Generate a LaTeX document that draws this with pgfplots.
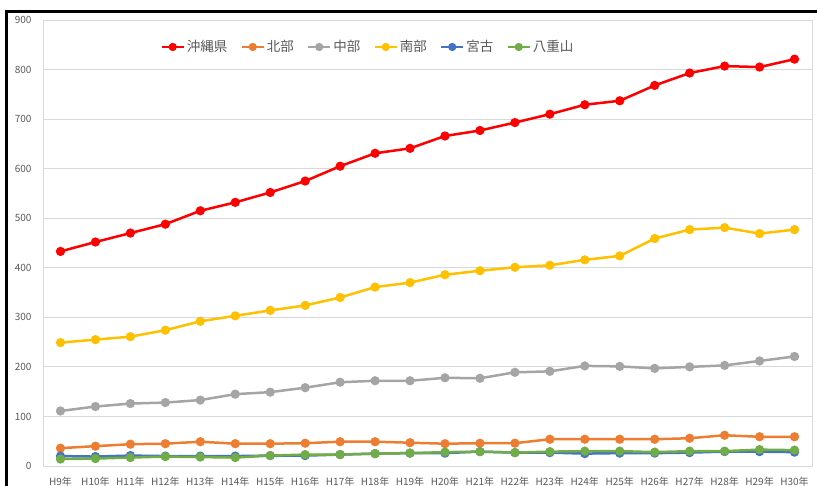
\documentclass[border=0pt]{standalone}
\usepackage{pgfplots}
\pgfplotsset{compat=1.18}
\usepackage{fontspec}
\setmainfont{Noto Sans CJK JP}
\definecolor{cRed}{HTML}{FF0000}
\definecolor{cOrange}{HTML}{ED7D31}
\definecolor{cGray}{HTML}{A5A5A5}
\definecolor{cYellow}{HTML}{FFC000}
\definecolor{cBlue}{HTML}{4472C4}
\definecolor{cGreen}{HTML}{70AD47}
\definecolor{txt}{HTML}{595959}
\definecolor{gridc}{HTML}{D9D9D9}
\pgfplotstableread{
x okinawa hokubu chubu nanbu miyako yaeyama
0 433 36 111 249 20 14
1 452 40 120 255 19 15
2 470 44 126 261 21 17
3 488 45 128 274 20 19
4 515 49 133 292 20 18
5 532 45 145 303 20 17
6 552 45 149 314 21 21
7 575 46 158 324 21 23
8 605 49 169 340 23 23
9 631 49 172 361 25 25
10 641 47 172 370 26 26
11 666 45 178 386 26 28
12 677 46 177 394 29 29
13 693 46 189 401 27 27
14 710 54 191 405 27 29
15 729 54 202 416 25 30
16 737 54 201 424 26 30
17 768 54 197 459 26 28
18 793 56 200 477 27 30
19 807 62 203 481 29 30
20 805 59 212 469 29 33
21 821 59 221 477 28 32
}\datatable
\begin{document}
\begin{tikzpicture}
\useasboundingbox (0pt,0pt) rectangle (817pt,486pt);
\draw[line width=3pt,black] (6pt,-30pt) -- (6pt,474pt) -- (850pt,474pt);
\begin{axis}[
  at={(43pt,20pt)}, anchor=south west,
  scale only axis, width=769pt, height=446pt,
  xmin=-0.5, xmax=21.5, ymin=0, ymax=900,
  xtick={0,...,21},
  xticklabels={H9年,H10年,H11年,H12年,H13年,H14年,H15年,H16年,H17年,H18年,H19年,H20年,H21年,H22年,H23年,H24年,H25年,H26年,H27年,H28年,H29年,H30年},
  ytick={0,100,...,900},
  ymajorgrids, grid style={gridc, line width=0.8pt},
  axis line style={gridc, line width=0.8pt},
  major tick length=0pt,
  tick label style={font=\fontsize{10}{12}\selectfont, text=txt},
  xticklabel style={yshift=-8pt},
  yticklabel style={xshift=-8pt},
  /pgf/number format/assume math mode=true,
  legend style={at={(axis description cs:0.4226,0.9395)}, anchor=center,
    draw=none, fill=none, legend columns=-1,
    font=\fontsize{13.5}{15}\selectfont, text=txt,
    /tikz/every even column/.append style={column sep=11pt}},
  legend image code/.code={
    \draw[#1, line width=2.5pt] (0pt,0pt) -- (22pt,0pt);
    \fill[#1] (11pt,0pt) circle (2.8pt);},
  every axis plot/.append style={line width=2.5pt, mark=*, mark size=3.3pt, mark options={solid}},
]
\addplot[cRed] table[x=x,y=okinawa]{\datatable};
\addlegendentry{沖縄県}
\addplot[cOrange] table[x=x,y=hokubu]{\datatable};
\addlegendentry{北部}
\addplot[cGray] table[x=x,y=chubu]{\datatable};
\addlegendentry{中部}
\addplot[cYellow] table[x=x,y=nanbu]{\datatable};
\addlegendentry{南部}
\addplot[cBlue] table[x=x,y=miyako]{\datatable};
\addlegendentry{宮古}
\addplot[cGreen] table[x=x,y=yaeyama]{\datatable};
\addlegendentry{八重山}
\end{axis}
\end{tikzpicture}
\end{document}
